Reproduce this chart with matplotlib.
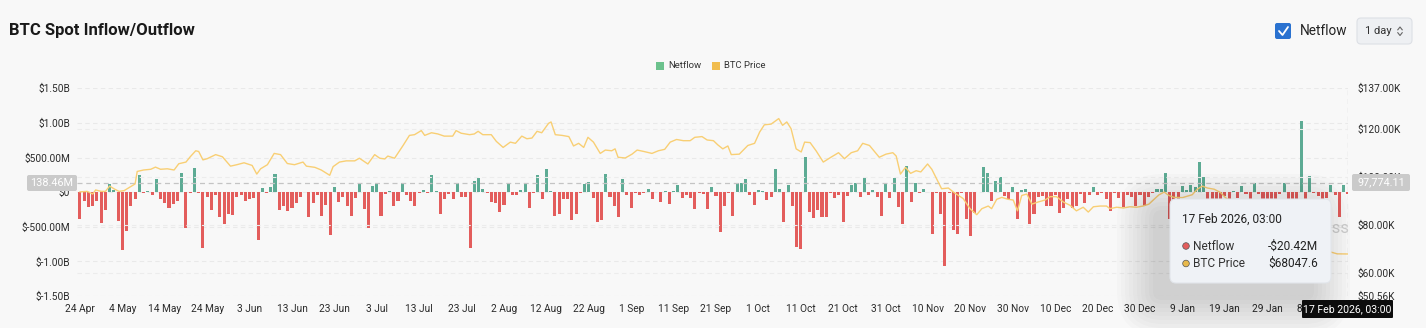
import pandas as pd
import matplotlib.pyplot as plt
from matplotlib.patches import FancyBboxPatch, Rectangle, Circle
from matplotlib.lines import Line2D
from matplotlib.transforms import IdentityTransform

plt.rcParams['font.family'] = ['Roboto', 'DejaVu Sans']

W, H = 1426, 328

# ---- data ----
start_date = '2025-04-24'

netflow_m = [
    -382, -126, -213, -203, -135, -440, -261, 111, 29, -415,
    -831, -555, -203, -106, 241, -10, 19, -48, 193, -106,
    -155, -222, -164, -126, 280, -522, -19, 348, -19, -802,
    -77, -251, -39, -357, -464, -309, -328, -77, -48, -135,
    -106, -87, -686, 58, -10, 77, 261, -261, -203, -270,
    -222, -155, -77, -5, -357, -155, -48, -338, -184, -618,
    77, -145, -68, -203, -338, -87, 116, -241, -512, 87,
    135, -338, -29, 19, -193, -135, 135, -48, -135, -203,
    -19, 29, -19, 251, 19, -309, -106, -29, -106, 135,
    -68, -77, -802, 164, 203, 39, -19, -145, -155, -280,
    -184, 126, -48, -48, 29, 135, -222, -19, 251, -97,
    338, 19, -338, -319, -106, -106, -406, -319, -10, 116,
    145, -87, -435, -406, 261, -77, -203, -357, 184, -39,
    -222, -19, -48, -19, 48, -106, -5, -145, 19, -174,
    19, 97, -87, -39, -87, -241, -10, -29, -241, 77,
    -58, -580, -203, -19, -348, 135, 135, 193, -48, -184,
    29, 19, -116, -77, 338, 48, -435, 97, -203, -792,
    -821, 502, -280, -367, -261, -357, -357, -10, -87, -39,
    -435, -58, 97, 126, -68, 203, -48, 29, -77, -338,
    135, -87, 203, -213, -454, 377, -145, 135, -10, 48,
    0, -599, -19, -309, -1063, -19, -551, -599, -19, -386,
    -628, -300, -5, 367, 270, -135, 164, 222, -58, -97,
    77, -386, 29, 48, -464, -309, -77, -58, -193, -203,
    -48, -300, -222, -97, -222, -203, -29, -155, -48, 77,
    -48, -19, -97, -270, -19, -87, -213, -39, -68, -193,
    -48, -203, -77, -19, 39, 39, 280, -386, -150, -100,
    87, 29, 97, 77, 435, 212, -150, -120, -100, -130,
    -60, -110, 19, -90, 87, -20, -120, 135, -30, -110,
    -100, -120, -110, -20, 135, -130, -110, -120, 1024, -120,
    232, -10, -50, -110, -90, 97, -40, -357, 97, -20.42,
]

price_day = [
    0, 1.7, 3, 3.7, 5, 6, 7, 8, 9.2, 10.4, 12, 13, 13.5, 15, 16.7, 17.8, 19, 20.6,
    22.2, 23.3, 25, 26, 27.3, 28, 29, 30, 32, 33.6, 35.5, 37, 38.7, 40.6, 41.7,
    42.6, 44.2, 45.8, 47.3, 48.9, 50.6, 52.6, 53.4, 55.4, 56.9, 58.9, 59.7, 61.2,
    62.8, 64.8, 65.9, 67.9, 69.5, 70.7, 71.9, 72.6, 74.2, 76.2, 77.7, 78.9, 80.5,
    81.3, 82.9, 84.4, 85.9, 87.9, 88.7, 89.9, 91.9, 93, 93.9, 95, 97, 98.2, 99.8,
    101.5, 102.7, 104.2, 105.4, 106.6, 107.8, 108.9, 110.5, 111.1, 112.1, 113.7,
    115.3, 116.4, 117.6, 118.8, 119.8, 121.1, 122.7, 123.9, 125.4, 126.2, 126.9,
    128.6, 130.2, 131.4, 133, 134.9, 136.4, 137.9, 139.2, 140.7, 142.3, 143.9,
    145, 146.7, 147.9, 149.4, 150.4, 151.6, 152.8, 153.6, 155.5, 157.5, 159.1,
    160.3, 161.4, 163, 164.8, 165.7, 166.7, 167.7, 168.9, 170.1, 170.9, 172.2,
    173.6, 175.3, 177.1, 178.9, 180.3, 181.9, 183.4, 184.6, 186.2, 188.5, 190.1,
    191.7, 192.5, 193.5, 194.7, 195.9, 197.2, 198.3, 199.9, 200.9, 202, 203.2,
    204.8, 206, 207.2, 208.3, 209.9, 211.5, 212.7, 214.2, 215, 216.2, 217.4,
    218.9, 220.1, 221.1, 222.1, 223.3, 224.5, 226, 227.6, 228.8, 230.3, 231.9,
    233.5, 235, 236.6, 237.8, 239, 240.6, 242.1, 242.9, 244.5, 246.1, 247.6,
    249.2, 250.7, 252.1, 253.3, 254.5, 255.7, 256.8, 258, 260, 262.3, 263.5,
    264.7, 265.9, 267.5, 269, 270.2, 272, 275, 278, 280, 283, 285, 287, 288,
    290, 292, 294, 294.9, 296.5, 299,
]
price_k = [
    93.9, 94.1, 93.0, 94.7, 94.1, 94.1, 96.3, 95.2, 94.1, 94.4, 96.1, 97.2, 102.4,
    103.0, 103.3, 104.2, 103.3, 103.5, 103.0, 105.6, 106.3, 108.5, 111.0, 110.7,
    107.2, 107.7, 109.4, 108.5, 104.6, 105.2, 106.0, 104.9, 101.3, 103.5, 105.2,
    109.9, 109.4, 105.7, 105.2, 106.3, 104.6, 104.1, 103.0, 100.8, 104.4, 106.3,
    106.8, 106.8, 107.9, 105.5, 109.4, 107.9, 107.6, 108.8, 107.9, 113.2, 117.4,
    117.7, 119.4, 117.4, 118.5, 118.0, 117.1, 117.1, 119.4, 118.3, 117.7, 118.0,
    119.1, 117.7, 117.7, 114.9, 112.4, 114.6, 114.1, 117.1, 116.0, 116.3, 119.1,
    118.5, 122.4, 123.0, 117.7, 117.4, 116.9, 113.0, 114.1, 112.4, 116.6, 114.6,
    109.9, 111.3, 111.0, 111.8, 108.3, 108.0, 109.6, 111.3, 110.7, 109.9, 111.0,
    111.6, 114.6, 115.7, 115.2, 115.2, 116.6, 116.9, 115.5, 115.2, 113.5, 111.8,
    113.0, 109.4, 109.6, 113.2, 114.1, 118.8, 121.8, 122.1, 124.4, 121.6, 123.0,
    120.2, 111.8, 110.5, 114.6, 114.4, 111.0, 106.3, 108.3, 110.2, 107.7, 110.2,
    111.0, 114.1, 113.2, 108.3, 109.6, 110.2, 108.8, 101.3, 104.1, 101.6, 102.7,
    102.2, 105.5, 103.3, 99.4, 95.2, 95.5, 93.8, 92.4, 91.1, 86.9, 84.4, 86.9,
    88.0, 86.9, 90.8, 91.6, 90.8, 90.5, 86.0, 92.4, 93.0, 88.8, 89.7, 90.5, 91.9,
    91.9, 89.7, 88.3, 86.0, 87.5, 85.5, 87.7, 88.0, 88.0, 86.9, 87.5, 87.2, 87.7,
    87.5, 88.0, 88.8, 90.8, 92.7, 93.8, 92.4, 91.6, 91.5, 92.7, 95.0, 96.3, 95.5,
    95.0, 93.6, 91.4, 89.5, 89.0, 88.0, 84.5, 78.0, 76.0, 64.0, 70.0, 70.5, 68.5,
    69.0, 68.9, 68.1, 68.05,
]

left_ticks_m = [-1500, -1000, -500, 0, 500, 1000, 1500]
left_tick_labels = ['$-1.50B', '$-1.00B', '$-500.00M', '$0', '$500.00M', '$1.00B', '$1.50B']
right_ticks_k = [50.56, 60, 80, 100, 120, 137]
right_tick_labels = ['$50.56K', '$60.00K', '$80.00K', '$100.00K', '$120.00K', '$137.00K']

cross_flow_m = 138.46
cross_price_k = 97.77411
tip_date = '17 Feb 2026, 03:00'
tip_netflow = '-$20.42M'
tip_price = '$68047.6'

GREEN = '#5dab94'
RED = '#e35d5c'
PRICE = '#f8cf74'
BG = '#f8f8f8'

dates = pd.date_range(start_date, periods=len(netflow_m), freq='D')
days = list(range(len(netflow_m)))
tick_pos = days[::10]
tick_labels = [f'{d.day} {d:%b}' for d in dates[::10]]

# ---- figure ----
fig = plt.figure(figsize=(W / 100, H / 100), dpi=100, facecolor=BG)
px = IdentityTransform()


def P(x, y):
    return (x, H - y)


ax = fig.add_axes([77 / W, 1 - 296 / H, (1348 - 77) / W, (296 - 88.3) / H])
ax.set_facecolor(BG)
colors = [GREEN if v >= 0 else RED for v in netflow_m]
ax.bar(days, netflow_m, width=0.72, color=colors, zorder=2)
ax.set_ylim(-1500, 1500)
ax.set_xlim(-0.7, 299.05)
ax.set_yticks(left_ticks_m)
ax.set_yticklabels(left_tick_labels)
ax.set_xticks(tick_pos)
ax.set_xticklabels(tick_labels)
ax.tick_params(axis='both', length=0, labelsize=7.3, colors='#2b2b2b')
ax.tick_params(axis='y', pad=5)
ax.tick_params(axis='x', pad=6)
for s in ax.spines.values():
    s.set_visible(False)
for v in left_ticks_m:
    ax.axhline(v, color='#e9e9e9', lw=0.8, ls=(0, (4, 3)), zorder=0)

ax2 = ax.twinx()
ax2.plot(price_day, price_k, color=PRICE, lw=1.0, zorder=3)
ax2.set_ylim(50.56, 137)
ax2.set_yticks(right_ticks_k)
ax2.set_yticklabels(right_tick_labels)
ax2.tick_params(axis='y', length=0, labelsize=7.3, colors='#2b2b2b', pad=7)
for s in ax2.spines.values():
    s.set_visible(False)
for v in right_ticks_k[1:-1]:
    ax2.axhline(v, color='#ececec', lw=0.8, ls=(0, (4, 3)), zorder=0)

# crosshair
ax.axhline(cross_flow_m, color='#c4c4c4', lw=0.9, ls=(0, (4, 3)), zorder=4)
ax.axvline(days[-1], color='#c4c4c4', lw=0.9, ls=(0, (4, 3)), zorder=4)

# watermark (mostly hidden by tooltip)
fig.text(1349, H - 228, 'coinglass', transform=px, ha='right', va='center',
         fontsize=12, color='#cdcdcd', zorder=2)

# crosshair labels
fig.add_artist(FancyBboxPatch(P(27, 191), 50, 16, boxstyle='round,pad=0,rounding_size=2',
                              transform=px, fc='#cacaca', ec='none', zorder=5))
fig.text(52, H - 183.5, f'{cross_flow_m:.2f}M', transform=px, ha='center', va='center',
         fontsize=7.8, color='white', zorder=6)
fig.add_artist(FancyBboxPatch(P(1352, 191), 58, 17, boxstyle='round,pad=0,rounding_size=2',
                              transform=px, fc='#cacaca', ec='none', zorder=5))
fig.text(1381, H - 182.5, f'{cross_price_k * 1000:,.2f}', transform=px, ha='center', va='center',
         fontsize=7.8, color='white', zorder=6)
fig.add_artist(FancyBboxPatch(P(1302, 318), 91, 18, boxstyle='round,pad=0,rounding_size=1',
                              transform=px, fc='#0d0d0d', ec='none', zorder=5))
fig.text(1347.5, H - 309, tip_date, transform=px, ha='center', va='center',
         fontsize=7.6, color='white', zorder=6)

# tooltip with soft shadow, offset down and to the left
for i in range(10):
    e = 3 + i * 4
    fig.add_artist(FancyBboxPatch(P(1170 - e - 14, 283 + e + 14), 161 + 2 * e - 6, 84 + 2 * e,
                                  boxstyle=f'round,pad=0,rounding_size={6 + e}',
                                  transform=px, fc='black', ec='none', alpha=0.016, zorder=4))
fig.add_artist(FancyBboxPatch(P(1170, 283), 161, 84, boxstyle='round,pad=0,rounding_size=6',
                              transform=px, fc='#eff2f6', ec='#e1e5ea', lw=0.8, zorder=5))
fig.text(1182.5, H - 219.5, tip_date, transform=px, ha='left', va='center',
         fontsize=8.6, color='#222222', zorder=6)
fig.add_artist(Circle(P(1186, 246), 3.3, transform=px, fc=RED, ec='#555555', lw=0.5, zorder=6))
fig.add_artist(Circle(P(1186, 263.5), 3.3, transform=px, fc='#e8b94b', ec='#555555', lw=0.5, zorder=6))
fig.text(1193, H - 246, 'Netflow', transform=px, ha='left', va='center',
         fontsize=8.6, color='#333333', zorder=6)
fig.text(1193, H - 263.5, 'BTC Price', transform=px, ha='left', va='center',
         fontsize=8.6, color='#333333', zorder=6)
fig.text(1318, H - 246, tip_netflow, transform=px, ha='right', va='center',
         fontsize=8.6, color='#222222', zorder=6)
fig.text(1318, H - 263.5, tip_price, transform=px, ha='right', va='center',
         fontsize=8.6, color='#222222', zorder=6)

# legend
fig.add_artist(Rectangle(P(656, 70), 8, 8, transform=px, fc='#6cc28d', ec='none'))
fig.text(668, H - 66, 'Netflow', transform=px, ha='left', va='center', fontsize=6.8, color='#333333')
fig.add_artist(Rectangle(P(712, 70), 8, 8, transform=px, fc='#f1bd4f', ec='none'))
fig.text(724, H - 66, 'BTC Price', transform=px, ha='left', va='center', fontsize=6.8, color='#333333')

# header
fig.text(9, H - 30, 'BTC Spot Inflow/Outflow', transform=px, ha='left', va='center',
         fontsize=12, fontweight='bold', color='#1a1a1a')
fig.add_artist(FancyBboxPatch(P(1275, 39), 16, 16, boxstyle='round,pad=0,rounding_size=2',
                              transform=px, fc='#2a72d0', ec='none'))
fig.add_artist(Line2D([1279, 1282.5, 1288], [H - 31, H - 35, H - 27], transform=px,
                      color='white', lw=1.3, solid_capstyle='round', solid_joinstyle='round'))
fig.text(1300, H - 31, 'Netflow', transform=px, ha='left', va='center', fontsize=9.8, color='#222222')
fig.add_artist(FancyBboxPatch(P(1357, 44), 55, 26, boxstyle='round,pad=0,rounding_size=4',
                              transform=px, fc='#eef0f3', ec='#dde0e5', lw=0.8))
fig.text(1365, H - 31, '1 day', transform=px, ha='left', va='center', fontsize=8, color='#333333')
fig.add_artist(Line2D([1397.8, 1400, 1402.2], [H - 29.8, H - 27, H - 29.8], transform=px,
                      color='#666666', lw=0.8))
fig.add_artist(Line2D([1397.8, 1400, 1402.2], [H - 32.7, H - 35.5, H - 32.7], transform=px,
                      color='#666666', lw=0.8))

fig.savefig('out.png', dpi=100, facecolor=BG)
